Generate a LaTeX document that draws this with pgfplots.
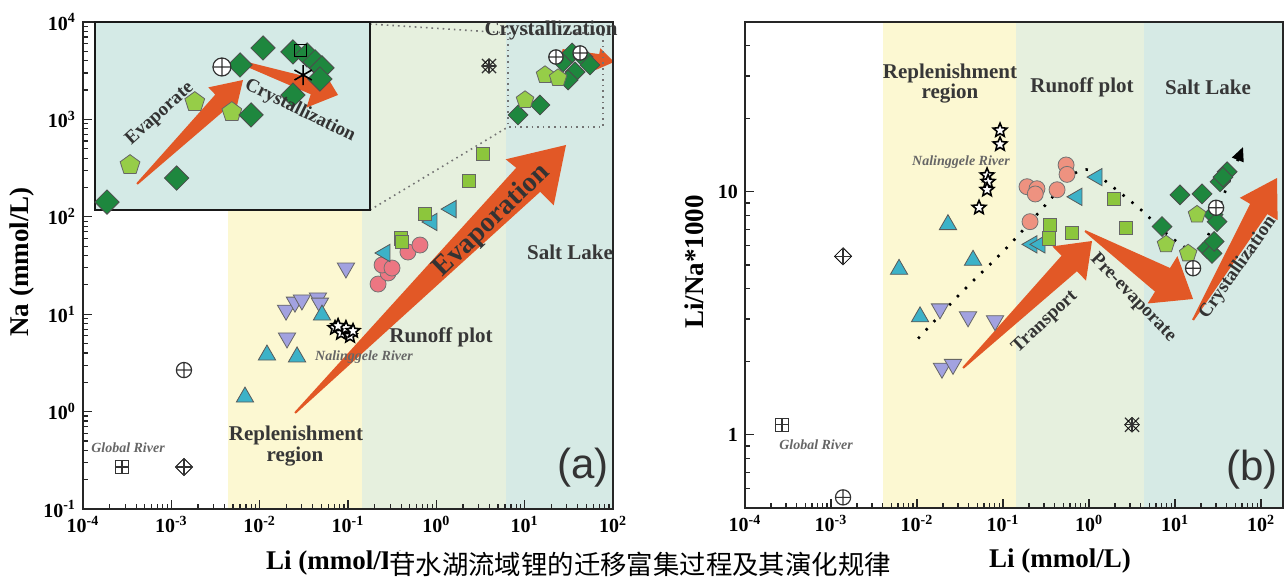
\documentclass[border=0pt]{standalone}
\usepackage{fontspec}
\setmainfont{Liberation Serif}
\setsansfont{Liberation Sans}
\newfontfamily\cjk{Noto Sans CJK SC}
\usepackage{pgfplots}
\pgfplotsset{compat=1.18}
\usetikzlibrary{arrows.meta}

\definecolor{tealT}{RGB}{60,178,200}
\definecolor{lav}{RGB}{162,162,224}
\definecolor{pinkC}{RGB}{236,118,130}
\definecolor{salmon}{RGB}{238,146,128}
\definecolor{limeS}{RGB}{140,198,60}
\definecolor{limeP}{RGB}{150,205,72}
\definecolor{dgreen}{RGB}{30,135,62}
\definecolor{arrowC}{RGB}{226,88,38}
\definecolor{bgY}{RGB}{252,248,210}
\definecolor{bgG}{RGB}{230,240,222}
\definecolor{bgT}{RGB}{214,234,229}
\definecolor{insetBG}{RGB}{212,234,230}
\definecolor{txt}{RGB}{55,55,55}

\pgfdeclareplotmark{fstar}{%
  \pgfpathmoveto{\pgfpointpolar{90}{\pgfplotmarksize}}%
  \pgfpathlineto{\pgfpointpolar{126}{0.45*\pgfplotmarksize}}%
  \pgfpathlineto{\pgfpointpolar{162}{\pgfplotmarksize}}%
  \pgfpathlineto{\pgfpointpolar{198}{0.45*\pgfplotmarksize}}%
  \pgfpathlineto{\pgfpointpolar{234}{\pgfplotmarksize}}%
  \pgfpathlineto{\pgfpointpolar{270}{0.45*\pgfplotmarksize}}%
  \pgfpathlineto{\pgfpointpolar{306}{\pgfplotmarksize}}%
  \pgfpathlineto{\pgfpointpolar{342}{0.45*\pgfplotmarksize}}%
  \pgfpathlineto{\pgfpointpolar{18}{\pgfplotmarksize}}%
  \pgfpathlineto{\pgfpointpolar{54}{0.45*\pgfplotmarksize}}%
  \pgfpathclose
  \pgfusepathqfillstroke
}

\newcommand{\fs}[1]{\fontsize{#1}{#1}\selectfont}

\tikzset{
  px/.style={x=0.5pt, y=-0.5pt, yshift=289pt},
  lbl/.style={font=\bfseries\fs{10.5}, text=txt, inner sep=0pt},
  itl/.style={font=\bfseries\itshape\fs{7}, text=black!60, inner sep=0pt},
}

\pgfplotsset{
  Tup/.style={only marks, mark=triangle*, mark size=5pt, mark options={fill=tealT, draw=black!65, line width=0.4pt}},
  Tdn/.style={only marks, mark=triangle*, mark size=5pt, mark options={fill=lav, draw=black!60, line width=0.4pt, rotate=180}},
  Tlf/.style={only marks, mark=triangle*, mark size=5pt, mark options={fill=tealT, draw=black!65, line width=0.4pt, rotate=90}},
  Cpk/.style={only marks, mark=*, mark size=4pt, mark options={fill=#1, draw=black!55, line width=0.4pt}},
  Sq/.style={only marks, mark=square*, mark size=3.3pt, mark options={fill=limeS, draw=black!60, line width=0.4pt}},
  Pt/.style={only marks, mark=pentagon*, mark size=#1, mark options={fill=limeP, draw=black!60, line width=0.4pt}},
  Dm/.style={only marks, mark=square*, mark size=#1, mark options={fill=dgreen, draw=black!70, line width=0.4pt, rotate=45}},
  St/.style={only marks, mark=fstar, mark size=3.6pt, mark options={fill=white, draw=black, line width=0.8pt}},
  Op/.style={only marks, mark=oplus*, mark size=#1, mark options={fill=white, draw=black!80, line width=0.6pt}},
  Blk/.style={only marks, mark=#1, mark options={draw=black!80, fill=white, line width=0.6pt}},
}

\begin{document}
\begin{tikzpicture}
\useasboundingbox (0,0) rectangle (644pt,289pt);

% ---------- left backgrounds and arrows ----------
\begin{scope}[px]
  \fill[bgY] (228,22) rectangle (362,509);
  \fill[bgG] (362,22) rectangle (506,509);
  \fill[bgT] (506,22) rectangle (613,509);
  \fill[arrowC] (295.7,413.7) -- (540.2,191.8) -- (553.7,205.3) -- (566,145) -- (505.7,159.3) -- (516.2,167.8) -- (294.3,412.3) -- cycle;
  \fill[arrowC] (561.4,54.9) -- (597.4,63.9) -- (596.2,69.8) -- (614,62) -- (600.4,48.2) -- (599.2,54.1) -- (562.6,49.1) -- cycle;
  \draw[black!55, dotted, line width=0.8pt] (508,33) rectangle (603,127);
  \draw[black!55, dotted, line width=0.8pt] (370,24) -- (508,33);
  \draw[black!55, dotted, line width=0.8pt] (370,210) -- (508,127);
\end{scope}

% ---------- left main axis ----------
\begin{axis}[anchor=south west, scale only axis, xmode=log, ymode=log,
  axis line style={line width=1.2pt, black!85},
  tick align=inside, xtick pos=left, ytick pos=left,
  major tick length=4.5pt, minor tick length=2.5pt,
  tick style={black!85, line width=0.6pt},
  ticklabel style={font=\bfseries\fs{10}},
  clip=false,
  at={(41.5pt,34.5pt)}, width=265pt, height=243.5pt,
  xmin=1e-4, xmax=1e2, ymin=1e-1, ymax=1e4,
  xticklabel={\pgfmathtruncatemacro\ee{round(\tick/ln(10))}10\textsuperscript{\ee}},
  yticklabel={\pgfmathtruncatemacro\ee{round(\tick/ln(10))}10\textsuperscript{\ee}}]
  \addplot[Blk=square, mark size=3.2pt] coordinates {(2.76e-4,0.27)};
  \addplot[Blk=+, mark size=3.2pt] coordinates {(2.76e-4,0.27)};
  \addplot[Blk=square, mark size=3pt, mark options={rotate=45}] coordinates {(1.39e-3,0.27)};
  \addplot[Blk=+, mark size=4.2pt] coordinates {(1.39e-3,0.27)};
  \addplot[Op=3.8pt] coordinates {(1.39e-3,2.67)};
  \addplot[Blk=x, mark size=5pt] coordinates {(3.95,3530)};
  \addplot[Blk=square, mark size=2.6pt, mark options={rotate=45}] coordinates {(3.95,3530)};
  \addplot[Blk=+, mark size=3.5pt] coordinates {(3.95,3530)};
  \addplot[Tdn] coordinates {(0.0948,29.8)(0.0199,11.0)(0.0251,13.3)(0.0301,14.0)(0.0457,14.7)(0.0481,13.0)(0.0204,5.7)};
  \addplot[Tup] coordinates {(0.00682,1.41)(0.0121,3.81)(0.0265,3.64)(0.0508,9.8)};
  \addplot[St] coordinates {(0.0713,7.22)(0.0834,6.41)(0.0948,7.22)(0.1055,5.97)(0.0772,7.57)(0.114,6.73)};
  \addplot[Cpk=pinkC] coordinates {(0.219,20.4)(0.284,26.5)(0.243,32.0)(0.315,29.8)(0.477,43.5)(0.653,51.3)};
  \addplot[Tlf] coordinates {(0.262,42.5)(0.893,88.5)(1.47,120)};
  \addplot[Sq] coordinates {(0.40,60)(0.408,55.1)(0.745,107)(2.34,233)(3.38,441)};
  \addplot[Dm=3.5pt] coordinates {(8.41,1110)(14.9,1406)(27.2,3883)(34.4,4808)(45.8,4372)(54.9,3620)(37.2,3067)(31.0,2540)};
  \addplot[Pt=4.6pt] coordinates {(10.1,1582)(17.0,2856)(23.9,2660)};
  \addplot[Op=3.6pt] coordinates {(22.6,4372)(42.4,4808)};
\end{axis}

% ---------- inset ----------
\begin{scope}[px]
  \fill[insetBG] (95,22) rectangle (370,210);
  \fill[arrowC] (137.7,184.7) -- (227.9,107.4) -- (234.9,114.6) -- (243,80) -- (208.3,87.4) -- (215.3,94.6) -- (136.3,183.3) -- cycle;
  \fill[arrowC] (242.4,64.9) -- (310.8,94.3) -- (306.4,107.6) -- (338,95) -- (320.4,65.8) -- (316.0,79.1) -- (243.6,61.1) -- cycle;
\end{scope}
\begin{axis}[anchor=south west, scale only axis, xmode=log, ymode=log, clip=false,
  at={(47.5pt,184pt)}, width=137.5pt, height=94pt,
  xmin=6.47, xmax=77.1, ymin=836, ymax=7710, xtick=\empty, ytick=\empty,
  minor xtick={}, minor ytick={},
  axis line style={line width=1.3pt, black!90}]
  \addplot[Pt=5.2pt] coordinates {(8.87,1422)(15.9,2995)(22.2,2660)};
  \addplot[Dm=4.3pt] coordinates {(7.21,918)(13.5,1219)(26.4,2570)(23.9,4640)(29.4,5670)(38.5,5410)(43.7,5220)(47.0,4810)(50.0,4480)(49.1,3930)(38.5,3250)};
  \addplot[Op=4.5pt] coordinates {(20.3,4530)};
  \addplot[Blk=square, mark size=3pt, mark options={fill=none}] coordinates {(41,5500)};
  \addplot[only marks, mark=asterisk, mark size=5pt, mark options={draw=black, line width=0.8pt}] coordinates {(42.2,4120)};
\end{axis}

% ---------- right backgrounds and arrows ----------
\begin{scope}[px]
  \fill[bgY] (883,22) rectangle (1016,508);
  \fill[bgG] (1016,22) rectangle (1144,508);
  \fill[bgT] (1144,22) rectangle (1283,508);
  \fill[arrowC] (963.7,368.7) -- (1076.9,271.3) -- (1086.0,280.6) -- (1092,241) -- (1052.4,246.4) -- (1061.5,255.7) -- (962.3,367.3) -- cycle;
  \fill[arrowC] (1084.5,231.8) -- (1155.0,291.6) -- (1147.6,303.5) -- (1193,299) -- (1177.4,256.1) -- (1170.0,268.0) -- (1085.5,230.2) -- cycle;
  \fill[arrowC] (1193.9,320.5) -- (1267.3,214.1) -- (1277.6,220.2) -- (1277,178) -- (1239.8,197.8) -- (1250.1,203.9) -- (1192.1,319.5) -- cycle;
\end{scope}

% ---------- right axis ----------
\begin{axis}[anchor=south west, scale only axis, xmode=log, ymode=log,
  axis line style={line width=1.2pt, black!85},
  tick align=inside, xtick pos=left, ytick pos=left,
  major tick length=4.5pt, minor tick length=2.5pt,
  tick style={black!85, line width=0.6pt},
  ticklabel style={font=\bfseries\fs{10}},
  clip=false,
  at={(372.5pt,35pt)}, width=269pt, height=243pt,
  xmin=1e-4, xmax=180, ymin=0.5, ymax=50,
  xticklabel={\pgfmathtruncatemacro\ee{round(\tick/ln(10))}10\textsuperscript{\ee}},
  yticklabel={\pgfmathtruncatemacro\ee{round(exp(\tick))}\ee}]
  \addplot[black, line width=1.3pt, dash pattern=on 1.2pt off 4.5pt, smooth, -{Triangle[length=7pt,width=6pt]}] coordinates {(0.0103,2.49)(0.0316,3.8)(0.114,5.96)(0.352,9.27)(0.652,11.8)(1.03,12.3)(1.75,10.7)(3.92,8.5)(8.75,6.55)(17.1,5.69)(25.5,6.87)(38.1,10)(61.7,15.3)};
  \addplot[Blk=square, mark size=3.2pt] coordinates {(2.69e-4,1.10)};
  \addplot[Blk=+, mark size=3.2pt] coordinates {(2.69e-4,1.10)};
  \addplot[Blk=square, mark size=3pt, mark options={rotate=45}] coordinates {(1.38e-3,5.43)};
  \addplot[Blk=+, mark size=4.2pt] coordinates {(1.38e-3,5.43)};
  \addplot[Op=3.8pt] coordinates {(1.38e-3,0.553)};
  \addplot[Blk=x, mark size=5pt] coordinates {(3.16,1.10)};
  \addplot[Blk=square, mark size=2.6pt, mark options={rotate=45}] coordinates {(3.16,1.10)};
  \addplot[Blk=+, mark size=3.5pt] coordinates {(3.16,1.10)};
  \addplot[Tup] coordinates {(0.0229,7.33)(0.0448,5.23)(0.00618,4.8)(0.01084,3.06)};
  \addplot[Tdn] coordinates {(0.0185,3.30)(0.0392,3.06)(0.0807,2.95)(0.0195,1.88)(0.0262,1.95)};
  \addplot[St] coordinates {(0.0923,17.9)(0.0923,15.7)(0.0652,11.7)(0.0670,11.0)(0.0652,10.2)(0.0526,8.61)};
  \addplot[Cpk=salmon] coordinates {(0.541,12.9)(0.555,11.8)(0.190,10.5)(0.248,10.3)(0.237,9.8)(0.425,10.2)(0.206,7.54)};
  \addplot[Tlf] coordinates {(1.24,11.5)(0.724,9.54)(0.217,6.08)(0.269,6.08)};
  \addplot[Sq] coordinates {(0.352,7.33)(0.343,6.43)(0.634,6.80)(1.95,9.36)(2.69,7.13)};
  \addplot[Dm=3.5pt] coordinates {(11.4,9.72)(20.6,9.81)(33.4,11.0)(40.3,12.1)(36.1,11.5)(27.7,8.06)(30.8,7.54)(7.06,7.2)(23.6,5.85)(26.9,5.58)(28.5,6.25)};
  \addplot[Pt=4.6pt] coordinates {(18.0,8.06)(7.85,6.08)(14.2,5.58)};
  \addplot[Op=3.8pt] coordinates {(16.2,4.85)(30.0,8.6)};
\end{axis}

% ---------- texts ----------
\begin{scope}[px]
  \node[font=\bfseries\fs{13.5}, rotate=90] at (22,262) {Na (mmol/L)};
  \node[font=\bfseries\fs{13.5}] at (337,563) {Li (mmol/L)};
  \node[lbl] at (296,435) {Replenishment};
  \node[lbl] at (295,457) {region};
  \node[lbl] at (441,337) {Runoff plot};
  \node[lbl] at (570,252) {Salt Lake};
  \node[lbl] at (551,30) {Crystallization};
  \node[itl] at (364,357) {Nalinggele River};
  \node[itl] at (128,448) {Global River};
  \node[font=\sffamily\fs{21}, text=black!80, inner sep=0pt] at (583,468) {(a)};
  \node[font=\bfseries\fs{14}, text=black!80, rotate=44, inner sep=0pt] at (492,221) {Evaporation};
  \node[font=\bfseries\fs{9.5}, text=black!80, rotate=42, inner sep=0pt] at (160,114) {Evaporate};
  \node[font=\bfseries\fs{9.5}, text=black!80, rotate=-26, inner sep=0pt] at (300,111) {Crystallization};
  \node[font=\bfseries\fs{13.5}, rotate=90] at (694,262) {Li/Na*1000};
  \node[font=\bfseries\fs{13.5}] at (1060,561) {Li (mmol/L)};
  \node[lbl] at (950,73) {Replenishment};
  \node[lbl] at (950,94) {region};
  \node[lbl] at (1082,87) {Runoff plot};
  \node[lbl] at (1208,87) {Salt Lake};
  \node[itl] at (961,162) {Nalinggele River};
  \node[itl] at (816,445) {Global River};
  \node[font=\bfseries\fs{9.5}, text=black!80, rotate=43, inner sep=0pt] at (1045,322) {Transport};
  \node[font=\bfseries\fs{9.5}, text=black!80, rotate=-46, inner sep=0pt] at (1133,298) {Pre-evaporate};
  \node[font=\bfseries\fs{9.5}, text=black!80, rotate=55, inner sep=0pt] at (1238,268) {Crystallization};
  \node[font=\sffamily\fs{21}, text=black!80, inner sep=0pt] at (1252,470) {(b)};
  \node[font=\cjk\fs{13.2}, fill=white, inner sep=0.5pt] at (640,564) {苷水湖流域锂的迁移富集过程及其演化规律};
\end{scope}
\end{tikzpicture}
\end{document}
